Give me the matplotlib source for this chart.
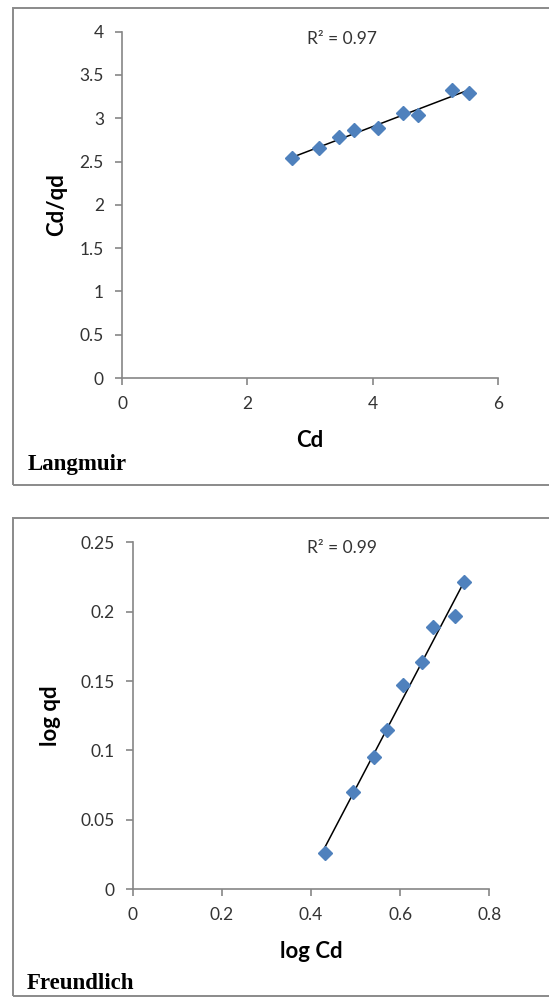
import numpy as np
import matplotlib
matplotlib.use('Agg')
import matplotlib.pyplot as plt
from matplotlib.patches import Rectangle

# Langmuir isotherm
cd = [2.72, 3.15, 3.47, 3.71, 4.08, 4.49, 4.72, 5.27, 5.53]
cd_qd = [2.54, 2.66, 2.78, 2.86, 2.89, 3.06, 3.04, 3.33, 3.29]

# Freundlich isotherm
log_cd = [0.431, 0.495, 0.541, 0.570, 0.607, 0.650, 0.674, 0.723, 0.744]
log_qd = [0.026, 0.070, 0.0955, 0.115, 0.147, 0.1635, 0.189, 0.197, 0.2216]

r2_langmuir = 'R² = 0.97'
r2_freundlich = 'R² = 0.99'

plt.rcParams['font.family'] = ['Lato', 'DejaVu Sans']

blue = '#4F81BD'
gray = '#868686'
txt = '#333333'

fig = plt.figure(figsize=(5.49, 9.97), dpi=100)

# outer boxes round each chart (right side runs off the picture)
fig.patches.append(Rectangle((13 / 549, 1 - 485 / 997), 560 / 549, 477 / 997,
                             transform=fig.transFigure, fill=False,
                             ec='#8a8a8a', lw=1.4))
fig.patches.append(Rectangle((13 / 549, 1 - 995.5 / 997), 560 / 549, 477.5 / 997,
                             transform=fig.transFigure, fill=False,
                             ec='#8a8a8a', lw=1.4))


def style(ax):
    for s in ['top', 'right']:
        ax.spines[s].set_visible(False)
    for s in ['left', 'bottom']:
        ax.spines[s].set_color(gray)
        ax.spines[s].set_linewidth(1.2)
    ax.tick_params(colors=gray, labelcolor=txt, labelsize=12.5,
                   length=5, width=1.2, pad=8)


def trend(ax, x, y):
    x = np.array(x)
    k, b = np.polyfit(x, y, 1)
    xs = np.array([x.min(), x.max()])
    ax.plot(xs, k * xs + b, color='black', lw=1.1, zorder=2)


# top: Langmuir
ax1 = fig.add_axes([122 / 549, 1 - 378 / 997, 376 / 549, 346.3 / 997])
trend(ax1, cd, cd_qd)
ax1.plot(cd, cd_qd, 'D', color=blue, ms=7, zorder=3, clip_on=False)
ax1.set_xlim(0, 6)
ax1.set_ylim(0, 4)
ax1.set_xticks([0, 2, 4, 6])
ax1.set_yticks(np.arange(0, 4.01, 0.5))
ax1.set_yticklabels(['0', '0.5', '1', '1.5', '2', '2.5', '3', '3.5', '4'])
style(ax1)
ax1.set_xlabel('Cd', fontsize=16, fontweight='bold', color='black')
ax1.set_ylabel('Cd/qd', fontsize=16, fontweight='bold', color='black')
ax1.xaxis.set_label_coords(0.5, -0.15)
ax1.yaxis.set_label_coords(-0.145, 0.5)
fig.text(342 / 549, 1 - 39 / 997, r2_langmuir, fontsize=12.5, color=txt,
         ha='center', va='center')
fig.text(28 / 549, 1 - 470 / 997, 'Langmuir', family='Liberation Serif',
         fontweight='bold', fontsize=16.5, color='black', ha='left', va='baseline')

# bottom: Freundlich
ax2 = fig.add_axes([132.7 / 549, 1 - 889.3 / 997, 356.6 / 549, 347 / 997])
trend(ax2, log_cd, log_qd)
ax2.plot(log_cd, log_qd, 'D', color=blue, ms=7, zorder=3, clip_on=False)
ax2.set_xlim(0, 0.8)
ax2.set_ylim(0, 0.25)
ax2.set_xticks([0, 0.2, 0.4, 0.6, 0.8])
ax2.set_xticklabels(['0', '0.2', '0.4', '0.6', '0.8'])
ax2.set_yticks([0, 0.05, 0.1, 0.15, 0.2, 0.25])
ax2.set_yticklabels(['0', '0.05', '0.1', '0.15', '0.2', '0.25'])
style(ax2)
ax2.set_xlabel('log Cd', fontsize=16, fontweight='bold', color='black')
ax2.set_ylabel('log qd', fontsize=16, fontweight='bold', color='black')
ax2.xaxis.set_label_coords(0.5, -0.15)
ax2.yaxis.set_label_coords(-0.2, 0.5)
fig.text(342 / 549, 1 - 548 / 997, r2_freundlich, fontsize=12.5, color=txt,
         ha='center', va='center')
fig.text(27 / 549, 1 - 989 / 997, 'Freundlich', family='Liberation Serif',
         fontweight='bold', fontsize=16.5, color='black', ha='left', va='baseline')

fig.savefig('out.png', dpi=100)
